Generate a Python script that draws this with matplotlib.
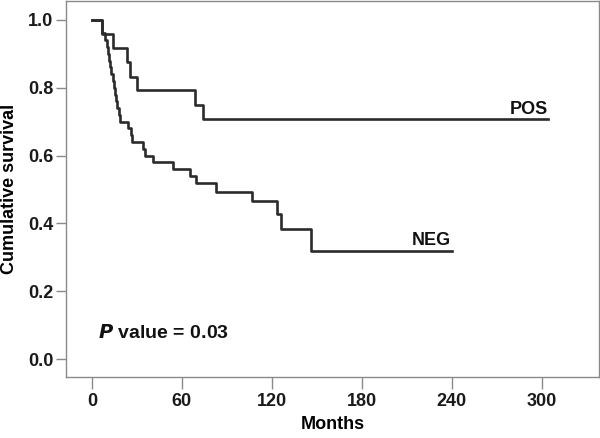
import matplotlib
matplotlib.use("Agg")
import matplotlib.pyplot as plt

# Kaplan-Meier steps (months, cumulative survival)
pos_t = [0, 6.5, 14.2, 23.1, 25.3, 30.2, 68.7, 74.2, 304]
pos_s = [1.0, 0.958, 0.917, 0.875, 0.833, 0.792, 0.750, 0.708, 0.708]

neg_t = [0, 6.4, 8.7, 9.8, 10.5, 11.3, 12.0, 13.0, 14.2, 15.0, 15.5, 16.0,
         17.0, 17.8, 18.7, 24.2, 25.8, 27.0, 33.8, 35.3, 40.9, 54.2, 65.3,
         69.3, 83.0, 107.0, 123.6, 125.8, 146.4, 240]
neg_s = [1.0, 0.96, 0.94, 0.92, 0.90, 0.88, 0.86, 0.84, 0.82, 0.80, 0.78,
         0.76, 0.74, 0.72, 0.70, 0.68, 0.66, 0.64, 0.62, 0.60, 0.58, 0.56,
         0.54, 0.52, 0.494, 0.466, 0.427, 0.384, 0.32, 0.32]

x_ticks = [0, 60, 120, 180, 240, 300]
y_ticks = [0.0, 0.2, 0.4, 0.6, 0.8, 1.0]

plt.rcParams['font.family'] = ['Liberation Sans', 'DejaVu Sans']
plt.rcParams['font.weight'] = 'bold'

fig = plt.figure(figsize=(6, 4.38), dpi=100)
ax = fig.add_axes([0.11, 0.139, 0.888, 0.859])

line_col = "#2b2b2b"
ax.step(pos_t, pos_s, where="post", color=line_col, linewidth=1.9)
ax.step(neg_t, neg_s, where="post", color=line_col, linewidth=1.9)

ax.text(304, 0.723, "POS", ha="right", va="baseline", fontsize=13,
        fontweight="bold", color="#111111")
ax.text(239.5, 0.336, "NEG", ha="right", va="baseline", fontsize=13,
        fontweight="bold", color="#111111")
ax.text(4, 0.062, r"$\bf{\it{P}}$ value = 0.03", ha="left", va="baseline",
        fontsize=14, fontweight="bold", color="#111111")

ax.set_xlim(-17.3, 338)
ax.set_ylim(-0.053, 1.056)
ax.set_xticks(x_ticks)
ax.set_yticks(y_ticks)
ax.set_yticklabels(["%.1f" % v for v in y_ticks])

for sp in ax.spines.values():
    sp.set_color("#8a8a8a")
    sp.set_linewidth(1.0)

ax.tick_params(axis="x", direction="out", length=8.6, width=1, color="#8a8a8a",
               labelsize=13, pad=3, labelcolor="#1a1a1a")
ax.tick_params(axis="y", direction="out", length=7, width=1, color="#8a8a8a",
               labelsize=13, pad=2, labelcolor="#1a1a1a")

ax.set_xlabel("Months", fontsize=13, fontweight="bold", labelpad=4)
ax.set_ylabel("Cumulative survival", fontsize=13, fontweight="bold",
              labelpad=7)

fig.savefig("out.png", dpi=100)
